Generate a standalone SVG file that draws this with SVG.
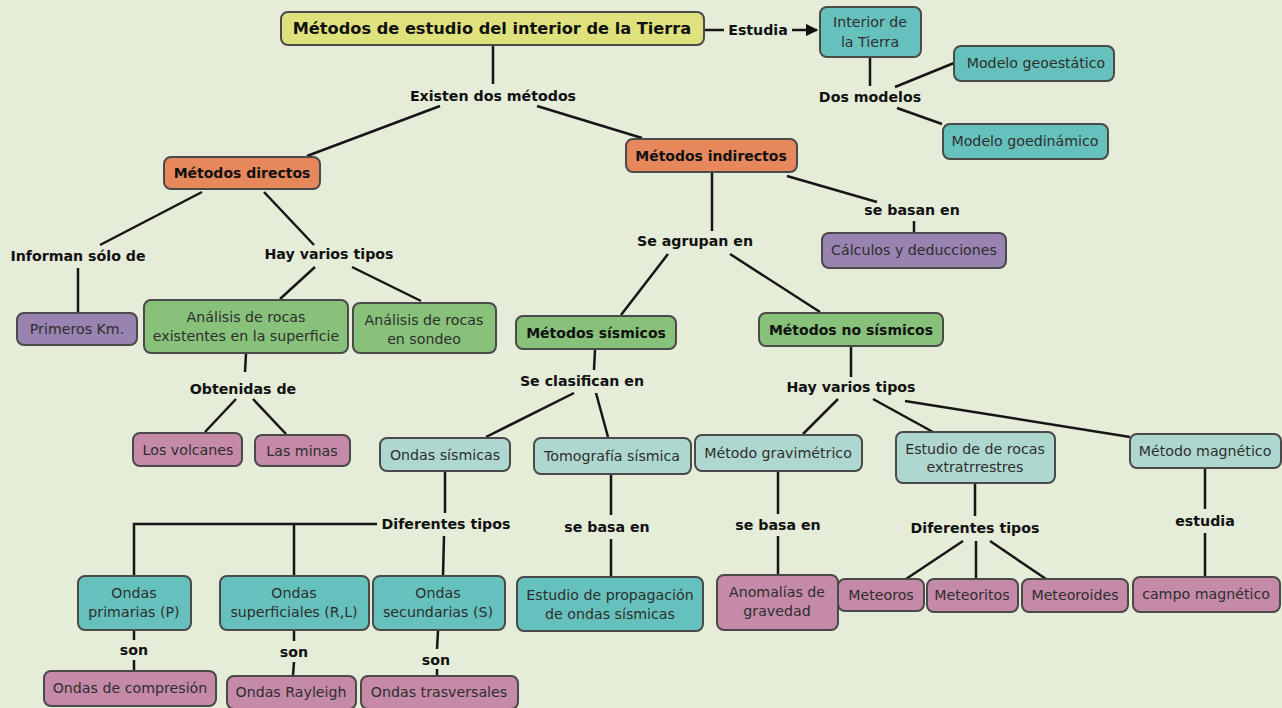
<svg xmlns="http://www.w3.org/2000/svg" width="1282" height="708" viewBox="0 0 1282 708">
<defs>
<style>
.n rect{stroke:#4a4a4a;stroke-width:2}
.n text{font-family:"DejaVu Sans",Verdana,sans-serif;font-size:14.2px;fill:#2e2e2e;text-anchor:middle}
.n text.b{font-weight:bold;fill:#111;font-size:14px}
.yel{fill:#dfe17c}.org{fill:#e6885c}.grn{fill:#88c17a}.tl{fill:#66c1bc}.lt{fill:#aed8cf}.pur{fill:#9983b0}.pnk{fill:#c48aa8}
.c line,.c path{stroke:#161616;stroke-width:2.5;fill:none}
.lb{font-family:"DejaVu Sans",Verdana,sans-serif;font-size:14.2px;font-weight:bold;fill:#111;text-anchor:middle}
</style>
<marker id="ar" viewBox="0 0 10 10" refX="9" refY="5" markerWidth="5" markerHeight="5" orient="auto" markerUnits="strokeWidth"><path d="M0,0 L10,5 L0,10 z" fill="#111"/></marker>
</defs>
<rect width="1282" height="708" fill="#e5ecd8"/>
<g class="c">
<line x1="704" y1="30" x2="724" y2="30"/>
<line x1="792" y1="30" x2="817" y2="30" marker-end="url(#ar)"/>
<line x1="870" y1="57" x2="870" y2="86"/>
<line x1="895" y1="87" x2="954" y2="63"/>
<line x1="897" y1="108" x2="942" y2="124"/>
<line x1="493" y1="45" x2="493" y2="84"/>
<line x1="440" y1="106" x2="307" y2="156"/>
<line x1="537" y1="106" x2="642" y2="138"/>
<line x1="202" y1="192" x2="100" y2="245"/>
<line x1="264" y1="192" x2="314" y2="245"/>
<line x1="78" y1="268" x2="78" y2="313"/>
<line x1="315" y1="267" x2="280" y2="299"/>
<line x1="352" y1="267" x2="421" y2="301"/>
<line x1="246" y1="354" x2="245" y2="372"/>
<line x1="236" y1="399" x2="205" y2="432"/>
<line x1="253" y1="399" x2="286" y2="434"/>
<line x1="712" y1="173" x2="712" y2="231"/>
<line x1="787" y1="176" x2="877" y2="202"/>
<line x1="914" y1="221" x2="914" y2="232"/>
<line x1="668" y1="254" x2="621" y2="315"/>
<line x1="730" y1="254" x2="820" y2="312"/>
<line x1="595" y1="350" x2="594" y2="370"/>
<line x1="574" y1="393" x2="486" y2="437"/>
<line x1="596" y1="393" x2="608" y2="437"/>
<line x1="851" y1="347" x2="851" y2="377"/>
<line x1="838" y1="399" x2="803" y2="434"/>
<line x1="873" y1="399" x2="933" y2="432"/>
<line x1="905" y1="401" x2="1130" y2="437"/>
<line x1="445" y1="472" x2="445" y2="513"/>
<path d="M377,524 H134 V576 M294,524 V576"/>
<line x1="444" y1="536" x2="443" y2="576"/>
<line x1="134" y1="631" x2="134" y2="640"/>
<line x1="134" y1="660" x2="134" y2="670"/>
<line x1="294" y1="631" x2="294" y2="641"/>
<line x1="294" y1="662" x2="293" y2="675"/>
<line x1="438" y1="631" x2="437" y2="649"/>
<line x1="437" y1="669" x2="437" y2="675"/>
<line x1="611" y1="475" x2="611" y2="515"/>
<line x1="611" y1="539" x2="611" y2="577"/>
<line x1="778" y1="472" x2="778" y2="514"/>
<line x1="778" y1="536" x2="778" y2="575"/>
<line x1="975" y1="484" x2="975" y2="516"/>
<line x1="963" y1="541" x2="906" y2="579"/>
<line x1="976" y1="541" x2="976" y2="579"/>
<line x1="990" y1="541" x2="1046" y2="579"/>
<line x1="1205" y1="469" x2="1205" y2="509"/>
<line x1="1205" y1="533" x2="1205" y2="577"/>
</g>
<g id="labels">
<text class="lb" x="758" y="35">Estudia</text>
<text class="lb" x="870" y="102">Dos modelos</text>
<text class="lb" x="493" y="101">Existen dos métodos</text>
<text class="lb" x="78" y="261">Informan sólo de</text>
<text class="lb" x="329" y="259">Hay varios tipos</text>
<text class="lb" x="243" y="394">Obtenidas de</text>
<text class="lb" x="695" y="246">Se agrupan en</text>
<text class="lb" x="912" y="215">se basan en</text>
<text class="lb" x="582" y="386">Se clasifican en</text>
<text class="lb" x="851" y="392">Hay varios tipos</text>
<text class="lb" x="446" y="529">Diferentes tipos</text>
<text class="lb" x="134" y="655">son</text>
<text class="lb" x="294" y="657">son</text>
<text class="lb" x="436" y="665">son</text>
<text class="lb" x="607" y="532">se basa en</text>
<text class="lb" x="778" y="530">se basa en</text>
<text class="lb" x="975" y="533">Diferentes tipos</text>
<text class="lb" x="1205" y="526">estudia</text>
</g>
<g id="title" class="n"><rect class="yel" x="281" y="12" width="423" height="33" rx="7"/><text class="b" x="492" y="34" style="font-size:16.2px">Métodos de estudio del interior de la Tierra</text></g>
<g id="interior" class="n"><rect class="tl" x="820" y="7" width="101" height="50" rx="7"/><text x="870" y="27">Interior de</text><text x="870" y="47">la Tierra</text></g>
<g id="geoestatico" class="n"><rect class="tl" x="954" y="46" width="160" height="35" rx="7"/><text x="1036" y="68">Modelo geoestático</text></g>
<g id="goedinamico" class="n"><rect class="tl" x="943" y="124" width="165" height="35" rx="7"/><text x="1025" y="146">Modelo goedinámico</text></g>
<g id="directos" class="n"><rect class="org" x="164" y="157" width="156" height="32" rx="7"/><text class="b" x="242" y="178">Métodos directos</text></g>
<g id="indirectos" class="n"><rect class="org" x="626" y="139" width="171" height="33" rx="7"/><text class="b" x="711" y="161">Métodos indirectos</text></g>
<g id="primeros" class="n"><rect class="pur" x="17" y="313" width="120" height="32" rx="7"/><text x="77" y="334">Primeros Km.</text></g>
<g id="superficie" class="n"><rect class="grn" x="144" y="300" width="204" height="53" rx="7"/><text x="246" y="322">Análisis de rocas</text><text x="246" y="341">existentes en la superficie</text></g>
<g id="sondeo" class="n"><rect class="grn" x="353" y="303" width="143" height="50" rx="7"/><text x="424" y="325">Análisis de rocas</text><text x="424" y="344">en sondeo</text></g>
<g id="volcanes" class="n"><rect class="pnk" x="133" y="433" width="109" height="33" rx="7"/><text x="188" y="455">Los volcanes</text></g>
<g id="minas" class="n"><rect class="pnk" x="255" y="435" width="95" height="31" rx="7"/><text x="302" y="456">Las minas</text></g>
<g id="calculos" class="n"><rect class="pur" x="822" y="233" width="184" height="35" rx="7"/><text x="914" y="255">Cálculos y deducciones</text></g>
<g id="sismicos" class="n"><rect class="grn" x="516" y="316" width="160" height="33" rx="7"/><text class="b" x="596" y="338">Métodos sísmicos</text></g>
<g id="nosismicos" class="n"><rect class="grn" x="759" y="313" width="184" height="33" rx="7"/><text class="b" x="851" y="335">Métodos no sísmicos</text></g>
<g id="ondassismicas" class="n"><rect class="lt" x="380" y="438" width="130" height="33" rx="7"/><text x="445" y="460">Ondas sísmicas</text></g>
<g id="tomografia" class="n"><rect class="lt" x="534" y="438" width="157" height="36" rx="7"/><text x="612" y="461">Tomografía sísmica</text></g>
<g id="gravimetrico" class="n"><rect class="lt" x="695" y="435" width="167" height="36" rx="7"/><text x="778" y="458">Método gravimétrico</text></g>
<g id="extraterrestres" class="n"><rect class="lt" x="896" y="432" width="159" height="51" rx="7"/><text x="975" y="454">Estudio de de rocas</text><text x="975" y="472">extratrrestres</text></g>
<g id="magnetico" class="n"><rect class="lt" x="1130" y="434" width="151" height="34" rx="7"/><text x="1205" y="456">Método magnético</text></g>
<g id="primarias" class="n"><rect class="tl" x="78" y="576" width="113" height="54" rx="7"/><text x="134" y="598">Ondas</text><text x="134" y="617">primarias (P)</text></g>
<g id="superficiales" class="n"><rect class="tl" x="220" y="576" width="149" height="54" rx="7"/><text x="294" y="598">Ondas</text><text x="294" y="617">superficiales (R,L)</text></g>
<g id="secundarias" class="n"><rect class="tl" x="373" y="576" width="132" height="54" rx="7"/><text x="438" y="598">Ondas</text><text x="438" y="617">secundarias (S)</text></g>
<g id="compresion" class="n"><rect class="pnk" x="44" y="671" width="172" height="35" rx="7"/><text x="130" y="693">Ondas de compresión</text></g>
<g id="rayleigh" class="n"><rect class="pnk" x="227" y="676" width="129" height="33" rx="7"/><text x="291" y="697">Ondas Rayleigh</text></g>
<g id="trasversales" class="n"><rect class="pnk" x="361" y="676" width="157" height="33" rx="7"/><text x="439" y="697">Ondas trasversales</text></g>
<g id="propagacion" class="n"><rect class="tl" x="517" y="577" width="186" height="54" rx="7"/><text x="610" y="600">Estudio de propagación</text><text x="610" y="619">de ondas sísmicas</text></g>
<g id="anomalias" class="n"><rect class="pnk" x="717" y="575" width="121" height="55" rx="7"/><text x="777" y="597">Anomalías de</text><text x="777" y="616">gravedad</text></g>
<g id="meteoros" class="n"><rect class="pnk" x="838" y="579" width="86" height="32" rx="7"/><text x="881" y="600">Meteoros</text></g>
<g id="meteoritos" class="n"><rect class="pnk" x="927" y="579" width="91" height="33" rx="7"/><text x="972" y="600">Meteoritos</text></g>
<g id="meteoroides" class="n"><rect class="pnk" x="1022" y="579" width="106" height="33" rx="7"/><text x="1075" y="600">Meteoroides</text></g>
<g id="campo" class="n"><rect class="pnk" x="1133" y="577" width="147" height="35" rx="7"/><text x="1206" y="599">campo magnético</text></g>
</svg>
